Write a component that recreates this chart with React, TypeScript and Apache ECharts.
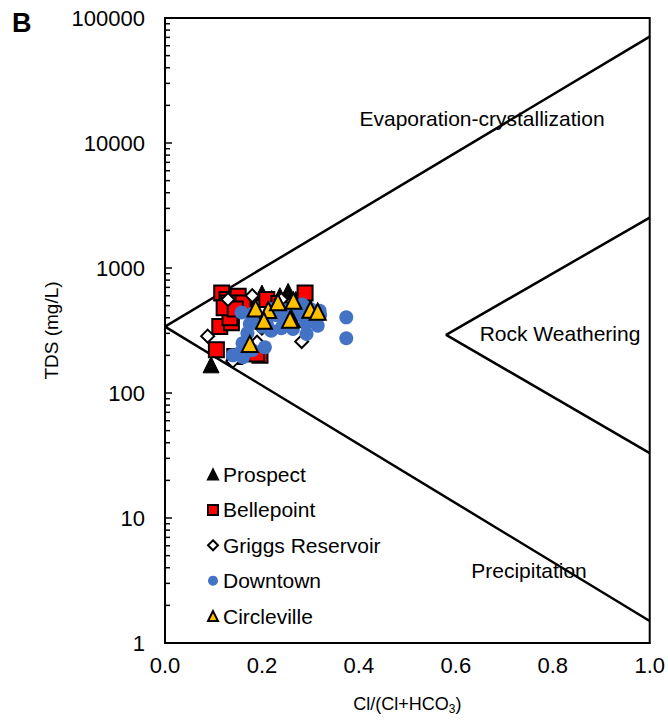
import React, { useEffect, useRef } from "react";
import * as echarts from "echarts";

const FONT = "'Liberation Sans', Arial, sans-serif";

const seriesNames = ["Prospect", "Bellepoint", "Griggs Reservoir", "Downtown", "Circleville"];

const prospect: [number, number][] = [
  [0.095, 168], [0.2, 630], [0.22, 570], [0.237, 600], [0.254, 650], [0.27, 560], [0.18, 540], [0.3, 480],
];
const bellepoint: [number, number][] = [
  [0.117, 630], [0.128, 560], [0.151, 595], [0.131, 525], [0.161, 525], [0.113, 340], [0.137, 365],
  [0.134, 400], [0.106, 222], [0.144, 196], [0.196, 200], [0.189, 205], [0.289, 630], [0.21, 560], [0.235, 520],
  [0.122, 480], [0.145, 470],
];
const griggs: [number, number][] = [
  [0.088, 285], [0.165, 260], [0.19, 255], [0.282, 258], [0.14, 180], [0.13, 560], [0.24, 560], [0.18, 600], [0.2, 330],
];
const downtown: [number, number][] = [
  [0.374, 403], [0.374, 274], [0.158, 441], [0.206, 232], [0.161, 193], [0.319, 455], [0.315, 345],
  [0.292, 297], [0.264, 325], [0.219, 315], [0.175, 357], [0.243, 391], [0.283, 510], [0.19, 380],
  [0.23, 420], [0.27, 440], [0.3, 400], [0.2, 340], [0.155, 210], [0.25, 350], [0.31, 380], [0.17, 300], [0.14, 200],
  [0.22, 470], [0.25, 460], [0.28, 420], [0.29, 360], [0.24, 330], [0.21, 360], [0.32, 420], [0.18, 430],
  [0.26, 380], [0.16, 250], [0.18, 220], [0.27, 480], [0.3, 470],
];
const circleville: [number, number][] = [
  [0.187, 475], [0.213, 461], [0.233, 531], [0.265, 547], [0.3, 463], [0.315, 447], [0.204, 378],
  [0.261, 391], [0.175, 247], [0.258, 386],
];

// Gibbs boundary lines
const outerBoundary: [number, number][] = [[1, 71000], [0, 340], [1, 1.5]];
const innerBoundary: [number, number][] = [[1, 2530], [0.58, 292], [1, 33]];

const majorTicks = [1, 10, 100, 1000, 10000, 100000];
const minorTicks: number[] = [];
for (let d = 1; d < 100000; d *= 10) for (let k = 2; k <= 9; k++) minorTicks.push(d * k);

export default function App() {
  const ref = useRef<HTMLDivElement>(null);
  useEffect(() => {
    if (!ref.current) return;
    const chart = echarts.init(ref.current, null, { renderer: "svg" });
    const tickData = [
      ...majorTicks.map((v) => [0, v, 7]),
      ...minorTicks.map((v) => [0, v, 5]),
    ];
    const option: any = {
      animation: false,
      backgroundColor: "#fff",
      textStyle: { fontFamily: FONT, color: "#000" },
      grid: { left: 165, right: 17, top: 18, bottom: 80, show: true, borderColor: "#000", borderWidth: 2, backgroundColor: "transparent" },
      xAxis: {
        type: "value",
        min: 0,
        max: 1,
        interval: 0.2,
        axisLine: { show: true, lineStyle: { color: "#000", width: 2 } },
        axisTick: { show: false },
        splitLine: { show: false },
        axisLabel: { fontSize: 22, color: "#000", fontFamily: FONT, margin: 11, formatter: (v: number) => v.toFixed(1) },
        name: "{a|Cl/(Cl+HCO}{b|3}{a|)}",
        nameLocation: "middle",
        nameGap: 50,
        nameTextStyle: {
          rich: {
            a: { fontSize: 18, fontFamily: FONT, color: "#000" },
            b: { fontSize: 12, fontFamily: FONT, color: "#000", verticalAlign: "bottom", padding: [10, 0, 0, 0] },
          },
        },
      },
      yAxis: {
        type: "log",
        logBase: 10,
        min: 1,
        max: 100000,
        splitNumber: 5,
        axisLine: { show: true, lineStyle: { color: "#000", width: 2 } },
        axisTick: { show: false },
        splitLine: { show: false },
        axisLabel: { fontSize: 22, color: "#000", fontFamily: FONT, margin: 20, formatter: (v: number) => String(Math.round(v)) },
        name: "TDS (mg/L)",
        nameLocation: "middle",
        nameGap: 103,
        nameTextStyle: { fontSize: 19, fontFamily: FONT, color: "#000" },
      },
      legend: {
        data: seriesNames,
        orient: "vertical",
        left: 207,
        top: 464,
        padding: 0,
        itemWidth: 10,
        itemHeight: 10,
        itemGap: 14.4,
        textStyle: { fontSize: 21, lineHeight: 21, fontFamily: FONT, color: "#000", padding: [0, 0, 0, 0] },
      },
      graphic: [
        { type: "text", left: 12, top: 9, style: { text: "B", fontSize: 27, fontWeight: "bold", fontFamily: FONT, fill: "#000" } },
        { type: "text", x: 482, y: 118, style: { text: "Evaporation-crystallization", fontSize: 21, fontFamily: FONT, fill: "#000", align: "center", verticalAlign: "middle" } },
        { type: "text", x: 560, y: 333, style: { text: "Rock Weathering", fontSize: 21, fontFamily: FONT, fill: "#000", align: "center", verticalAlign: "middle" } },
        { type: "text", x: 529, y: 570, style: { text: "Precipitation", fontSize: 21, fontFamily: FONT, fill: "#000", align: "center", verticalAlign: "middle" } },
      ],
      series: [
        {
          type: "custom",
          silent: true,
          data: tickData,
          renderItem: (params: any, api: any) => {
            const p = api.coord([api.value(0), api.value(1)]);
            const len = api.value(2);
            return {
              type: "line",
              shape: { x1: p[0], y1: p[1], x2: p[0] + len, y2: p[1] },
              style: { stroke: "#000", lineWidth: 1.5 },
            };
          },
          z: 1,
        },
        {
          type: "line",
          data: outerBoundary,
          showSymbol: false,
          silent: true,
          lineStyle: { color: "#000", width: 2.5 },
          z: 1,
        },
        {
          type: "line",
          data: innerBoundary,
          showSymbol: false,
          silent: true,
          lineStyle: { color: "#000", width: 2.5 },
          z: 1,
        },
        {
          name: "Prospect",
          type: "scatter",
          data: prospect,
          symbol: "triangle",
          symbolSize: 16,
          itemStyle: { color: "#000", borderColor: "#000", borderWidth: 1, opacity: 1 },
        },
        {
          name: "Bellepoint",
          type: "scatter",
          data: bellepoint,
          symbol: "rect",
          symbolSize: 15,
          itemStyle: { color: "#ff0000", borderColor: "#000", borderWidth: 2, opacity: 1 },
        },
        {
          name: "Griggs Reservoir",
          type: "scatter",
          data: griggs,
          symbol: "diamond",
          symbolSize: 13,
          itemStyle: { color: "#fff", borderColor: "#000", borderWidth: 2, opacity: 1 },
        },
        {
          name: "Downtown",
          type: "scatter",
          data: downtown,
          symbol: "circle",
          symbolSize: 14,
          itemStyle: { color: "#4472c4", opacity: 1 },
        },
        {
          name: "Circleville",
          type: "scatter",
          data: circleville,
          symbol: "triangle",
          symbolSize: 16,
          itemStyle: { color: "#ffc000", borderColor: "#000", borderWidth: 2, opacity: 1 },
        },
      ],
    };
    chart.setOption(option);
    return () => chart.dispose();
  }, []);
  return <div ref={ref} style={{ position: "absolute", left: 0, top: 0, width: 668, height: 723 }} />;
}
